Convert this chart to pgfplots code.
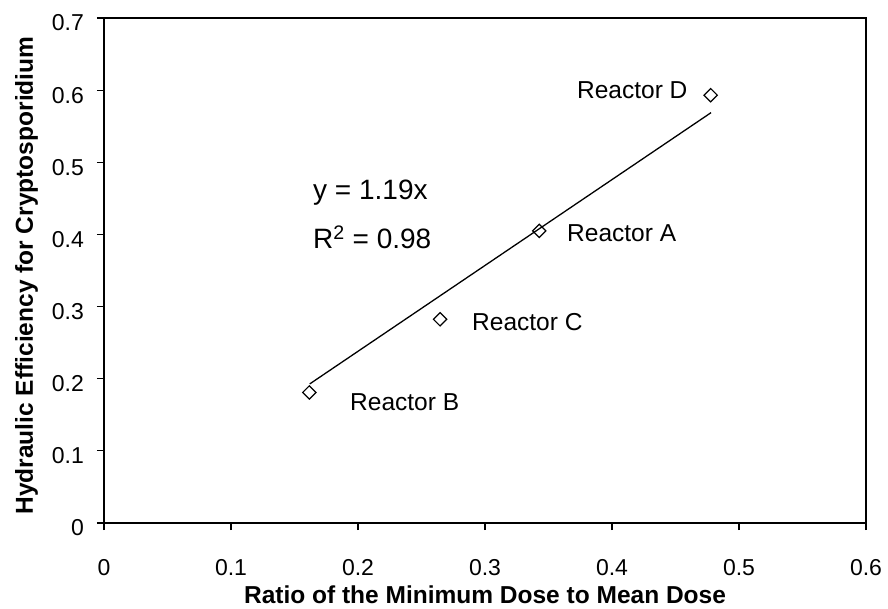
\documentclass[border=0pt]{standalone}
\usepackage{fontspec}
\setmainfont{Liberation Sans}
\usepackage{pgfplots}
\pgfplotsset{compat=1.18}
\begin{document}
\begin{tikzpicture}[x=1pt,y=1pt]
\useasboundingbox (0,0) rectangle (888,608);
\begin{axis}[
  at={(104pt,85pt)}, anchor=south west,
  scale only axis, width=762pt, height=505pt,
  xmin=0, xmax=0.6, ymin=0, ymax=0.7,
  clip=false,
  xtick={0,0.1,0.2,0.3,0.4,0.5,0.6},
  xticklabels={0,0.1,0.2,0.3,0.4,0.5,0.6},
  ytick={0,0.1,0.2,0.3,0.4,0.5,0.6,0.7},
  yticklabels={0,0.1,0.2,0.3,0.4,0.5,0.6,0.7},
  tick align=outside, xtick pos=bottom, ytick pos=left,
  major tick length=7pt,
  axis line style={line width=1.6pt},
  tick style={line width=1.2pt, black},
  ticklabel style={font=\fontsize{23}{27}\selectfont, inner sep=0pt},
  xticklabel style={anchor=base, yshift=-45pt},
  yticklabel style={anchor=east, xshift=-13pt, yshift=-5pt},
  xlabel={Ratio of the Minimum Dose to Mean Dose},
  ylabel={Hydraulic Efficiency for Cryptosporidium},
  label style={font=\bfseries\fontsize{24.5}{28}\selectfont, inner sep=0pt},
  xlabel style={at={(axis description cs:0.5,0)}, anchor=base, yshift=-80pt},
  ylabel style={at={(axis description cs:0,0.49)}, anchor=base, yshift=71pt},
]
% measured reactors
\addplot[only marks, mark=square, mark size=4.7pt,
  mark options={rotate=45, line width=1.2pt, black}]
  coordinates {(0.1617,0.181) (0.2646,0.2824) (0.3427,0.405) (0.4777,0.593)};
% fitted line through the origin, y = 1.19x
\addplot[no marks, line width=1.3pt, black]
  coordinates {(0.162,0.19278) (0.478,0.56882)};
\begin{scope}[every node/.style={inner sep=0pt, font=\fontsize{24.5}{28}\selectfont}]
\node[anchor=west] at (axis cs:0.1937,0.1677) {Reactor B};
\node[anchor=west] at (axis cs:0.2898,0.2786) {Reactor C};
\node[anchor=west] at (axis cs:0.3646,0.402) {Reactor A};
\node[anchor=west] at (axis cs:0.3724,0.600) {Reactor D};
\end{scope}
\begin{scope}[every node/.style={inner sep=0pt, font=\fontsize{28}{32}\selectfont}]
\node[anchor=base west] at (axis cs:0.1646,0.448) {y = 1.19x};
\node[anchor=base west] at (axis cs:0.1646,0.381) {R\textsuperscript{2} = 0.98};
\end{scope}
\end{axis}
\end{tikzpicture}
\end{document}
